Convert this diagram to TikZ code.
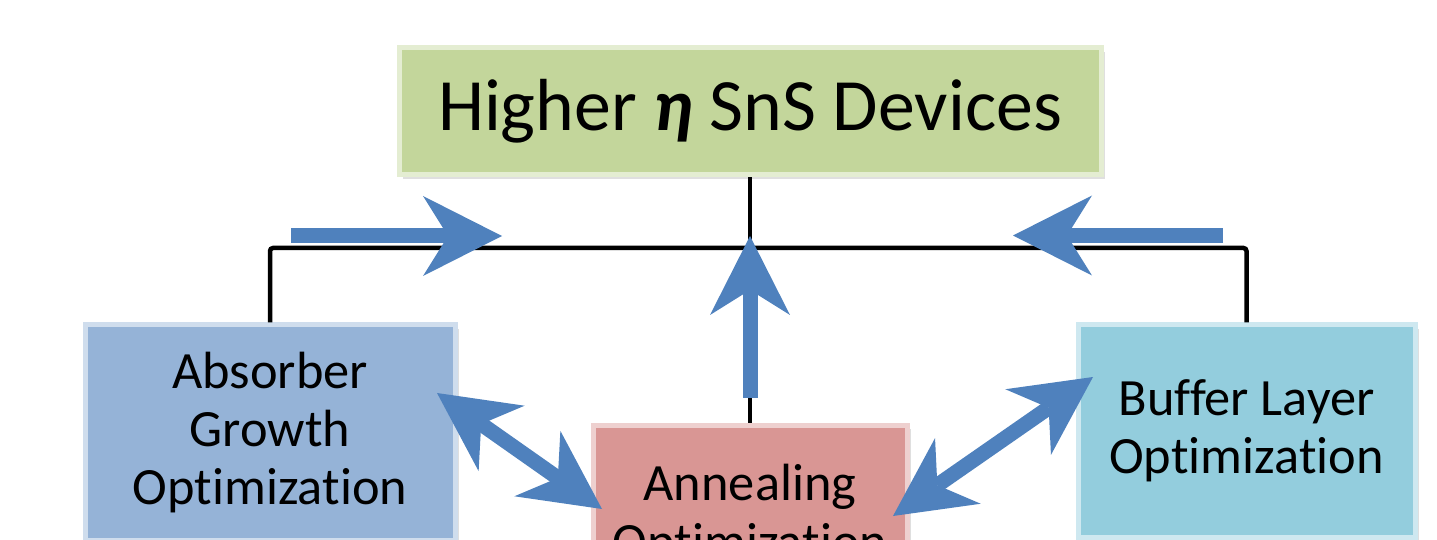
\documentclass[tikz,border=0pt]{standalone}
\usepackage{fontspec}
\setmainfont[Ligatures=NoCommon]{Carlito}
\usetikzlibrary{arrows.meta,shadows}
\definecolor{goalgreen}{HTML}{C3D69B}
\definecolor{stepblue}{HTML}{95B3D7}
\definecolor{steprose}{HTML}{D99694}
\definecolor{stepcyan}{HTML}{93CDDD}
\definecolor{flowblue}{HTML}{4F81BD}
\tikzset{
	stagebox/.style={fill=#1, draw=#1!45!white, line width=0.05cm, inner sep=0pt, align=center,
		font=\fontsize{14.9}{16.6}\selectfont,
		drop shadow={opacity=0.25, shadow xshift=0.04cm, shadow yshift=-0.04cm}},
	link/.style={draw=black, line width=0.045cm, rounded corners=0.03cm},
	flow/.style={draw=flowblue, line width=0.15cm,
		>={Stealth[length=0.79cm, width=0.80cm, inset=0.25cm, line width=0pt]}}
}
\begin{document}
\begin{tikzpicture}
		\useasboundingbox (0,0) rectangle (14.37,-5.40);
		\clip (0,0) rectangle (14.37,-5.40);
		\node[stagebox=goalgreen, minimum width=7.02cm, minimum height=1.27cm,
			font=\fontsize{21}{25}\selectfont] (goal) at (7.50,-1.115) {Higher {\bfseries\itshape η} SnS Devices};
		\node[stagebox=stepblue, minimum width=3.70cm, minimum height=2.15cm] (absorber) at (2.70,-4.325) {Absorber\\Growth\\Optimization};
		\node[stagebox=steprose, minimum width=3.14cm, minimum height=1.82cm] (anneal) at (7.50,-5.16) {Annealing\\Optimization};
		\node[stagebox=stepcyan, minimum width=3.37cm, minimum height=2.12cm] (buffer) at (12.465,-4.31) {Buffer Layer\\Optimization};
		\coordinate (bus) at (7.50,-2.48);
		\draw [link] (goal.south) -- (anneal.north);
		\draw [link] (absorber.north) |- (bus) -| (buffer.north);
		\coordinate (inL0) at (2.91,-2.36);
		\coordinate (inL1) at (5.02,-2.36);
		\coordinate (inR0) at (12.23,-2.355);
		\coordinate (inR1) at (10.13,-2.355);
		\coordinate (up0) at (7.50,-3.98);
		\coordinate (up1) at (7.50,-2.36);
		\coordinate (dl0) at (4.37,-3.93);
		\coordinate (dl1) at (6.02,-5.09);
		\coordinate (dr0) at (8.93,-5.16);
		\coordinate (dr1) at (10.93,-3.77);
		\draw [flow,->] (inL0) -- (inL1);
		\draw [flow,->] (inR0) -- (inR1);
		\draw [flow,->] (up0) -- (up1);
		\draw [flow,<->] (dl0) -- (dl1);
		\draw [flow,<->] (dr0) -- (dr1);
	\end{tikzpicture}
\end{document}
